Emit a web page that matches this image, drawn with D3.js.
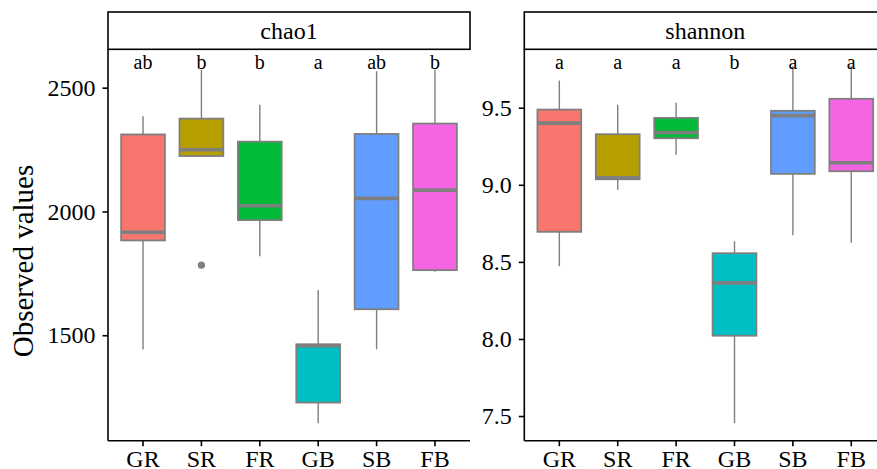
<!DOCTYPE html>
<html>
<head>
<meta charset="utf-8">
<script src="https://cdn.jsdelivr.net/npm/d3@7"></script>
<style>
  body { margin: 0; background: #fff; }
  text { font-family: "Liberation Serif", "Times New Roman", serif; fill: #000; }
</style>
</head>
<body>
<div id="chart"></div>
<script>
// groups, in plot order
const groups = ['GR', 'SR', 'FR', 'GB', 'SB', 'FB']
const fills  = ['#F8766D', '#B79F00', '#00BA38', '#00BFC4', '#619CFF', '#F564E3']

// chao1 boxes: [lower whisker, q1, median, q3, upper whisker]
const chao1Stats = [
  [1442, 1883, 1916, 2311, 2385],
  [2224, 2224, 2249, 2375, 2573],
  [1819, 1965, 2023, 2282, 2431],
  [1144, 1228, 1458, 1463, 1683],
  [1443, 1605, 2053, 2313, 2566],
  [1756, 1763, 2086, 2355, 2573]
]
const chao1Outliers = [[], [1783], [], [], [], []]
const chao1Letters = ['ab', 'b', 'b', 'a', 'ab', 'b']
const chao1Ticks = [1500, 2000, 2500]
const chao1Domain = [1074, 2655]

// shannon boxes
const shannonStats = [
  [8.472, 8.695, 9.400, 9.488, 9.676],
  [8.968, 9.036, 9.045, 9.328, 9.519],
  [9.195, 9.302, 9.339, 9.434, 9.532],
  [7.454, 8.021, 8.364, 8.556, 8.634],
  [8.673, 9.071, 9.449, 9.480, 9.769],
  [8.624, 9.088, 9.143, 9.558, 9.770]
]
const shannonOutliers = [[], [], [], [], [], []]
const shannonLetters = ['a', 'a', 'a', 'b', 'a', 'a']
const shannonTicks = [7.5, 8.0, 8.5, 9.0, 9.5]
const shannonDomain = [7.34, 9.879]

const W = 877, H = 469
const svg = d3.select('#chart').append('svg')
  .attr('width', W).attr('height', H)

const panelTop = 49.3, panelBottom = 440.7, panelW = 362
const stripTop = 12

const panels = [
  { title: 'chao1', left: 108, stats: chao1Stats, out: chao1Outliers, letters: chao1Letters,
    ticks: chao1Ticks, domain: chao1Domain, fmt: d3.format('d') },
  { title: 'shannon', left: 524.3, stats: shannonStats, out: shannonOutliers, letters: shannonLetters,
    ticks: shannonTicks, domain: shannonDomain, fmt: d3.format('.1f') }
]

const grey = '#7f7f7f'

panels.forEach(p => {
  const x = d3.scaleBand().domain(groups)
    .range([p.left, p.left + panelW]).paddingOuter(0.1).paddingInner(0)
  const y = d3.scaleLinear().domain(p.domain).range([panelBottom, panelTop])
  const bw = x.bandwidth() * 0.75
  const cx = g => x(g) + x.bandwidth() / 2

  // strip
  svg.append('rect')
    .attr('x', p.left).attr('y', stripTop)
    .attr('width', panelW).attr('height', panelTop - stripTop)
    .attr('fill', '#fff').attr('stroke', '#000').attr('stroke-width', 1.6)
  svg.append('text')
    .attr('x', p.left + panelW / 2).attr('y', (stripTop + panelTop) / 2 + 8)
    .attr('text-anchor', 'middle').attr('font-size', 24)
    .text(p.title)

  const g = svg.append('g')

  // whiskers
  g.selectAll('line.whisk').data(p.stats).join('line')
    .attr('x1', (d, i) => cx(groups[i])).attr('x2', (d, i) => cx(groups[i]))
    .attr('y1', d => y(d[0])).attr('y2', d => y(d[4]))
    .attr('stroke', grey).attr('stroke-width', 1.4)

  // boxes
  g.selectAll('rect.box').data(p.stats).join('rect')
    .attr('x', (d, i) => cx(groups[i]) - bw / 2)
    .attr('width', bw)
    .attr('y', d => y(d[3]))
    .attr('height', d => y(d[1]) - y(d[3]))
    .attr('fill', (d, i) => fills[i])
    .attr('stroke', grey).attr('stroke-width', 1.8)

  // medians
  g.selectAll('line.med').data(p.stats).join('line')
    .attr('x1', (d, i) => cx(groups[i]) - bw / 2).attr('x2', (d, i) => cx(groups[i]) + bw / 2)
    .attr('y1', d => y(d[2])).attr('y2', d => y(d[2]))
    .attr('stroke', grey).attr('stroke-width', 3.6)

  // outliers
  p.out.forEach((arr, i) => {
    g.selectAll(null).data(arr).join('circle')
      .attr('cx', cx(groups[i])).attr('cy', d => y(d))
      .attr('r', 3.6).attr('fill', grey)
  })

  // significance letters
  g.selectAll('text.let').data(p.letters).join('text')
    .attr('x', (d, i) => cx(groups[i])).attr('y', panelTop + 19.5)
    .attr('text-anchor', 'middle').attr('font-size', 20)
    .text(d => d)

  // axes
  const yAxis = svg.append('g')
    .attr('transform', `translate(${p.left},0)`)
    .call(d3.axisLeft(y).tickValues(p.ticks).tickFormat(p.fmt).tickSize(5.5).tickPadding(7))
  yAxis.select('.domain').attr('d', `M0,${panelTop}V${panelBottom}`)

  const xAxis = svg.append('g')
    .attr('transform', `translate(0,${panelBottom})`)
    .call(d3.axisBottom(x).tickSize(5.5).tickPadding(4))
  xAxis.select('.domain').attr('d', `M${p.left},0H${p.left + panelW}`)

  ;[yAxis, xAxis].forEach(a => {
    a.selectAll('path, line').attr('stroke', '#000').attr('stroke-width', 1.6)
    a.selectAll('text').attr('font-size', 24)
      .attr('font-family', '"Liberation Serif", "Times New Roman", serif').attr('fill', '#000')
  })
})

// y title
svg.append('text')
  .attr('transform', 'translate(33,261) rotate(-90)')
  .attr('text-anchor', 'middle').attr('font-size', 29)
  .text('Observed values')
</script>
</body>
</html>
